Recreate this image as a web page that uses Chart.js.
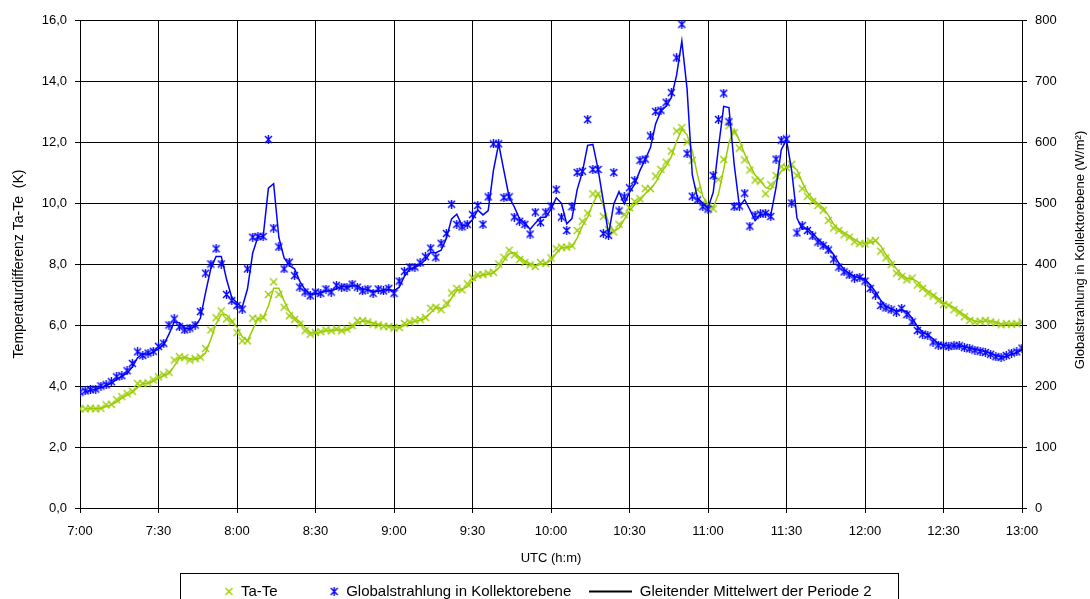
<!DOCTYPE html>
<html>
<head>
<meta charset="utf-8">
<title>Ta-Te und Globalstrahlung</title>
<script src="https://cdn.jsdelivr.net/npm/chart.js@4/dist/chart.umd.min.js"></script>
<style>
    html, body { margin: 0; padding: 0; background: #fff; }
    #wrap { width: 1090px; height: 599px; }
</style>
</head>
<body>
<div id="wrap"><canvas id="chart" width="1090" height="599"></canvas></div>
<script>
/* Ta-Te vs. Globalstrahlung, 2-Minuten-Werte 7:00 - 13:00 */

const SAMPLE_MIN = 2;

const tickLabels = ["7:00", "7:30", "8:00", "8:30", "9:00", "9:30", "10:00",
    "10:30", "11:00", "11:30", "12:00", "12:30", "13:00"];
const leftTicks = ["0,0", "2,0", "4,0", "6,0", "8,0", "10,0", "12,0", "14,0", "16,0"];

// Temperaturdifferenz Ta-Te (K)
const taTe = [
    3.25, 3.25, 3.27, 3.25, 3.27, 3.38, 3.4, 3.55, 3.65, 3.75,
    3.83, 4.08, 4.08, 4.1, 4.2, 4.3, 4.37, 4.45, 4.85, 4.96,
    4.93, 4.85, 4.9, 4.95, 5.23, 5.84, 6.24, 6.46, 6.2, 6.1,
    5.75, 5.48, 5.48, 6.22, 6.2, 6.25, 7.0, 7.41, 7.0, 6.58,
    6.3, 6.18, 6.03, 5.81, 5.7, 5.76, 5.78, 5.84, 5.81, 5.87,
    5.81, 5.87, 5.98, 6.14, 6.14, 6.1, 6.03, 6.0, 5.96, 5.95,
    5.9, 5.92, 6.05, 6.1, 6.14, 6.18, 6.25, 6.55, 6.58, 6.5,
    6.72, 7.05, 7.2, 7.15, 7.35, 7.55, 7.65, 7.65, 7.7, 7.73,
    8.0, 8.22, 8.45, 8.3, 8.15, 8.05, 7.97, 7.92, 8.05, 8.02,
    8.2, 8.5, 8.55, 8.55, 8.6, 9.1, 9.4, 9.67, 10.3, 10.3,
    9.56, 9.12, 9.05, 9.3, 9.62, 9.85, 10.05, 10.14, 10.47, 10.47,
    10.88, 11.1, 11.34, 11.7, 12.36, 12.47, 12.0, 11.4, 10.44, 10.0,
    9.9, 9.81, 10.78, 11.43, 12.53, 12.3, 11.8, 11.41, 11.08, 10.75,
    10.72, 10.3, 10.6, 10.9, 11.19, 11.16, 11.27, 10.9, 10.47, 10.22,
    10.05, 9.92, 9.76, 9.43, 9.18, 9.1, 8.96, 8.88, 8.73, 8.67,
    8.66, 8.75, 8.77, 8.42, 8.2, 7.98, 7.7, 7.59, 7.48, 7.54,
    7.31, 7.2, 7.04, 6.95, 6.8, 6.67, 6.65, 6.5, 6.4, 6.27,
    6.15, 6.1, 6.12, 6.15, 6.1, 6.07, 6.01, 6.04, 6.03, 6.04,
    6.1
];

// Globalstrahlung in Kollektorebene (W/m²)
const globalRad = [
    190, 192, 194, 195, 200, 202, 207, 215, 217, 225,
    237, 256, 250, 254, 257, 265, 270, 300, 310, 297,
    292, 295, 300, 322, 385, 400, 425, 400, 350, 340,
    332, 326, 392, 444, 445, 445, 604, 459, 428, 392,
    403, 381, 362, 354, 348, 354, 352, 359, 354, 365,
    362, 362, 367, 362, 356, 359, 352, 359, 356, 360,
    352, 372, 388, 395, 395, 402, 412, 426, 411, 434,
    450, 498, 465, 461, 465, 481, 496, 465, 510, 597,
    597, 509, 510, 477, 470, 465, 449, 485, 468, 485,
    495, 522, 477, 455, 494, 550, 552, 637, 555, 555,
    450, 447, 550, 487, 510, 525, 537, 570, 572, 610,
    650, 652, 665, 681, 738, 793, 581, 511, 505, 494,
    490, 545, 637, 680, 633, 494, 495, 516, 462, 480,
    482, 483, 478, 572, 603, 605, 500, 451, 463, 455,
    446, 436, 430, 423, 408, 395, 387, 382, 377, 378,
    372, 360, 349, 332, 328, 325, 321, 327, 317, 305,
    291, 285, 283, 272, 267, 266, 265, 266, 266, 263,
    261, 259, 257, 255, 252, 248, 247, 250, 254, 256,
    262
];

const GREEN = "#99cc00";
const BLUE = "#0000ff";
const FONT = "'Liberation Sans', Arial, sans-serif";

function toPoints(values) {
    return values.map(function(v, i) { return { x: i * SAMPLE_MIN, y: v }; });
}

// gleitender Mittelwert, Periode 2 (wie Excel-Trendlinie)
function movingAvg(values) {
    return values.map(function(v, i) { return i === 0 ? null : (values[i - 1] + v) / 2; });
}

function makeMarker(color, withBar, width) {
    const c = document.createElement("canvas");
    c.width = width || 9;
    c.height = 9;
    const g = c.getContext("2d");
    const ox = c.width - 9;
    g.strokeStyle = color;
    g.lineWidth = 1.4;
    g.beginPath();
    g.moveTo(ox + 1, 1); g.lineTo(ox + 8, 8);
    g.moveTo(ox + 8, 1); g.lineTo(ox + 1, 8);
    if (withBar) { g.moveTo(ox + 4.5, 0); g.lineTo(ox + 4.5, 9); }
    g.stroke();
    return c;
}

function makeLegendLine(width) {
    const c = document.createElement("canvas");
    c.width = width;
    c.height = 9;
    const g = c.getContext("2d");
    g.fillStyle = "#000";
    g.fillRect(0, 3.5, width, 2);
    return c;
}

const LEGEND_BOX = 43;
const LEGEND_FONT = 15;
const greenMark = makeMarker(GREEN, false);
const blueMark = makeMarker(BLUE, true);
const legendImgs = [makeMarker(GREEN, false, LEGEND_BOX), makeMarker(BLUE, true, LEGEND_BOX), makeLegendLine(LEGEND_BOX)];

const legendFrame = {
    id: "legendFrame",
    afterDraw: function(chart) {
        const hb = chart.legend && chart.legend.legendHitBoxes;
        if (!hb || !hb.length) return;
        const ctx = chart.ctx;
        const last = hb[hb.length - 1];
        const x0 = Math.round(hb[0].left + LEGEND_BOX - 4.5 - 49) + 0.5;
        const x1 = Math.round(last.left + last.width + 26) + 0.5;
        const y0 = Math.round(hb[0].top + LEGEND_FONT / 2 - 19) + 0.5;
        ctx.save();
        ctx.strokeStyle = "#000";
        ctx.lineWidth = 1;
        ctx.strokeRect(x0, y0, x1 - x0, chart.height + 5 - y0);
        ctx.restore();
    }
};

const rightTitle = {
    id: "rightTitle",
    afterDraw: function(chart) {
        const ctx = chart.ctx;
        ctx.save();
        ctx.translate(1080, 250);
        ctx.rotate(-Math.PI / 2);
        ctx.font = "13px " + FONT;
        ctx.fillStyle = "#000";
        ctx.textAlign = "center";
        ctx.textBaseline = "middle";
        ctx.fillText("Globalstrahlung in Kollektorebene (W/m\u00b2)", 0, 0);
        ctx.restore();
    }
};

const gridCol = "#000";

new Chart(document.getElementById("chart"), {
    type: "line",
    data: {
        datasets: [
            {
                label: "Ta-Te",
                data: toPoints(taTe),
                yAxisID: "y",
                showLine: false,
                pointStyle: greenMark,
                pointRadius: 4,
                borderColor: GREEN,
                backgroundColor: GREEN,
                order: 4
            },
            {
                label: "Globalstrahlung in Kollektorebene",
                data: toPoints(globalRad),
                yAxisID: "y1",
                showLine: false,
                pointStyle: blueMark,
                pointRadius: 4,
                borderColor: BLUE,
                backgroundColor: BLUE,
                order: 2
            },
            {
                label: "Gleitender Mittelwert der Periode 2",
                data: toPoints(movingAvg(globalRad)),
                yAxisID: "y1",
                borderColor: BLUE,
                borderWidth: 1.5,
                pointRadius: 0,
                tension: 0,
                order: 1
            },
            {
                label: "MA Ta-Te",
                data: toPoints(movingAvg(taTe)),
                yAxisID: "y",
                borderColor: GREEN,
                borderWidth: 1.5,
                pointRadius: 0,
                tension: 0,
                order: 3
            }
        ]
    },
    options: {
        responsive: false,
        animation: false,
        devicePixelRatio: 1,
        layout: { padding: { top: 20, right: 28, bottom: -10, left: 0 } },
        plugins: {
            tooltip: { enabled: false },
            legend: {
                position: "bottom",
                labels: {
                    usePointStyle: true,
                    pointStyleWidth: LEGEND_BOX,
                    padding: 18,
                    color: "#000",
                    font: { family: FONT, size: LEGEND_FONT },
                    generateLabels: function(chart) {
                        return chart.data.datasets.slice(0, 3).map(function(ds, i) {
                            return {
                                text: ds.label,
                                pointStyle: legendImgs[i],
                                fillStyle: "#000",
                                strokeStyle: "#000",
                                lineWidth: 0,
                                hidden: false,
                                datasetIndex: i,
                                fontColor: "#000"
                            };
                        });
                    }
                }
            }
        },
        scales: {
            x: {
                type: "linear",
                min: 0,
                max: 360,
                grid: { color: gridCol, tickLength: 5 },
                border: { color: "#000", width: 1 },
                ticks: {
                    stepSize: 30,
                    autoSkip: false,
                    maxRotation: 0,
                    padding: 11,
                    color: "#000",
                    font: { family: FONT, size: 13 },
                    callback: function(v) { return tickLabels[v / 30]; }
                },
                title: {
                    display: true,
                    text: "UTC (h:m)",
                    color: "#000",
                    font: { family: FONT, size: 13 },
                    padding: { top: 4, bottom: 0 }
                },
                afterFit: function(scale) { scale.height = 58; }
            },
            y: {
                position: "left",
                min: 0,
                max: 16,
                grid: { color: gridCol, tickLength: 5 },
                border: { color: "#000", width: 1 },
                ticks: {
                    stepSize: 2,
                    padding: 8,
                    color: "#000",
                    font: { family: FONT, size: 13 },
                    callback: function(v) { return leftTicks[v / 2]; }
                },
                title: {
                    display: true,
                    text: "Temperaturdifferenz Ta-Te  (K)",
                    color: "#000",
                    font: { family: FONT, size: 14 },
                    padding: { top: 11, bottom: 0 }
                },
                afterFit: function(scale) { scale.width = 80; }
            },
            y1: {
                position: "right",
                min: 0,
                max: 800,
                grid: { drawOnChartArea: false, color: "#000", tickLength: 5 },
                border: { color: "#000", width: 1 },
                ticks: {
                    stepSize: 100,
                    padding: 8,
                    color: "#000",
                    font: { family: FONT, size: 13 }
                },
                afterFit: function(scale) { scale.width = 40; }
            }
        }
    },
    plugins: [legendFrame, rightTitle]
});
</script>
</body>
</html>
